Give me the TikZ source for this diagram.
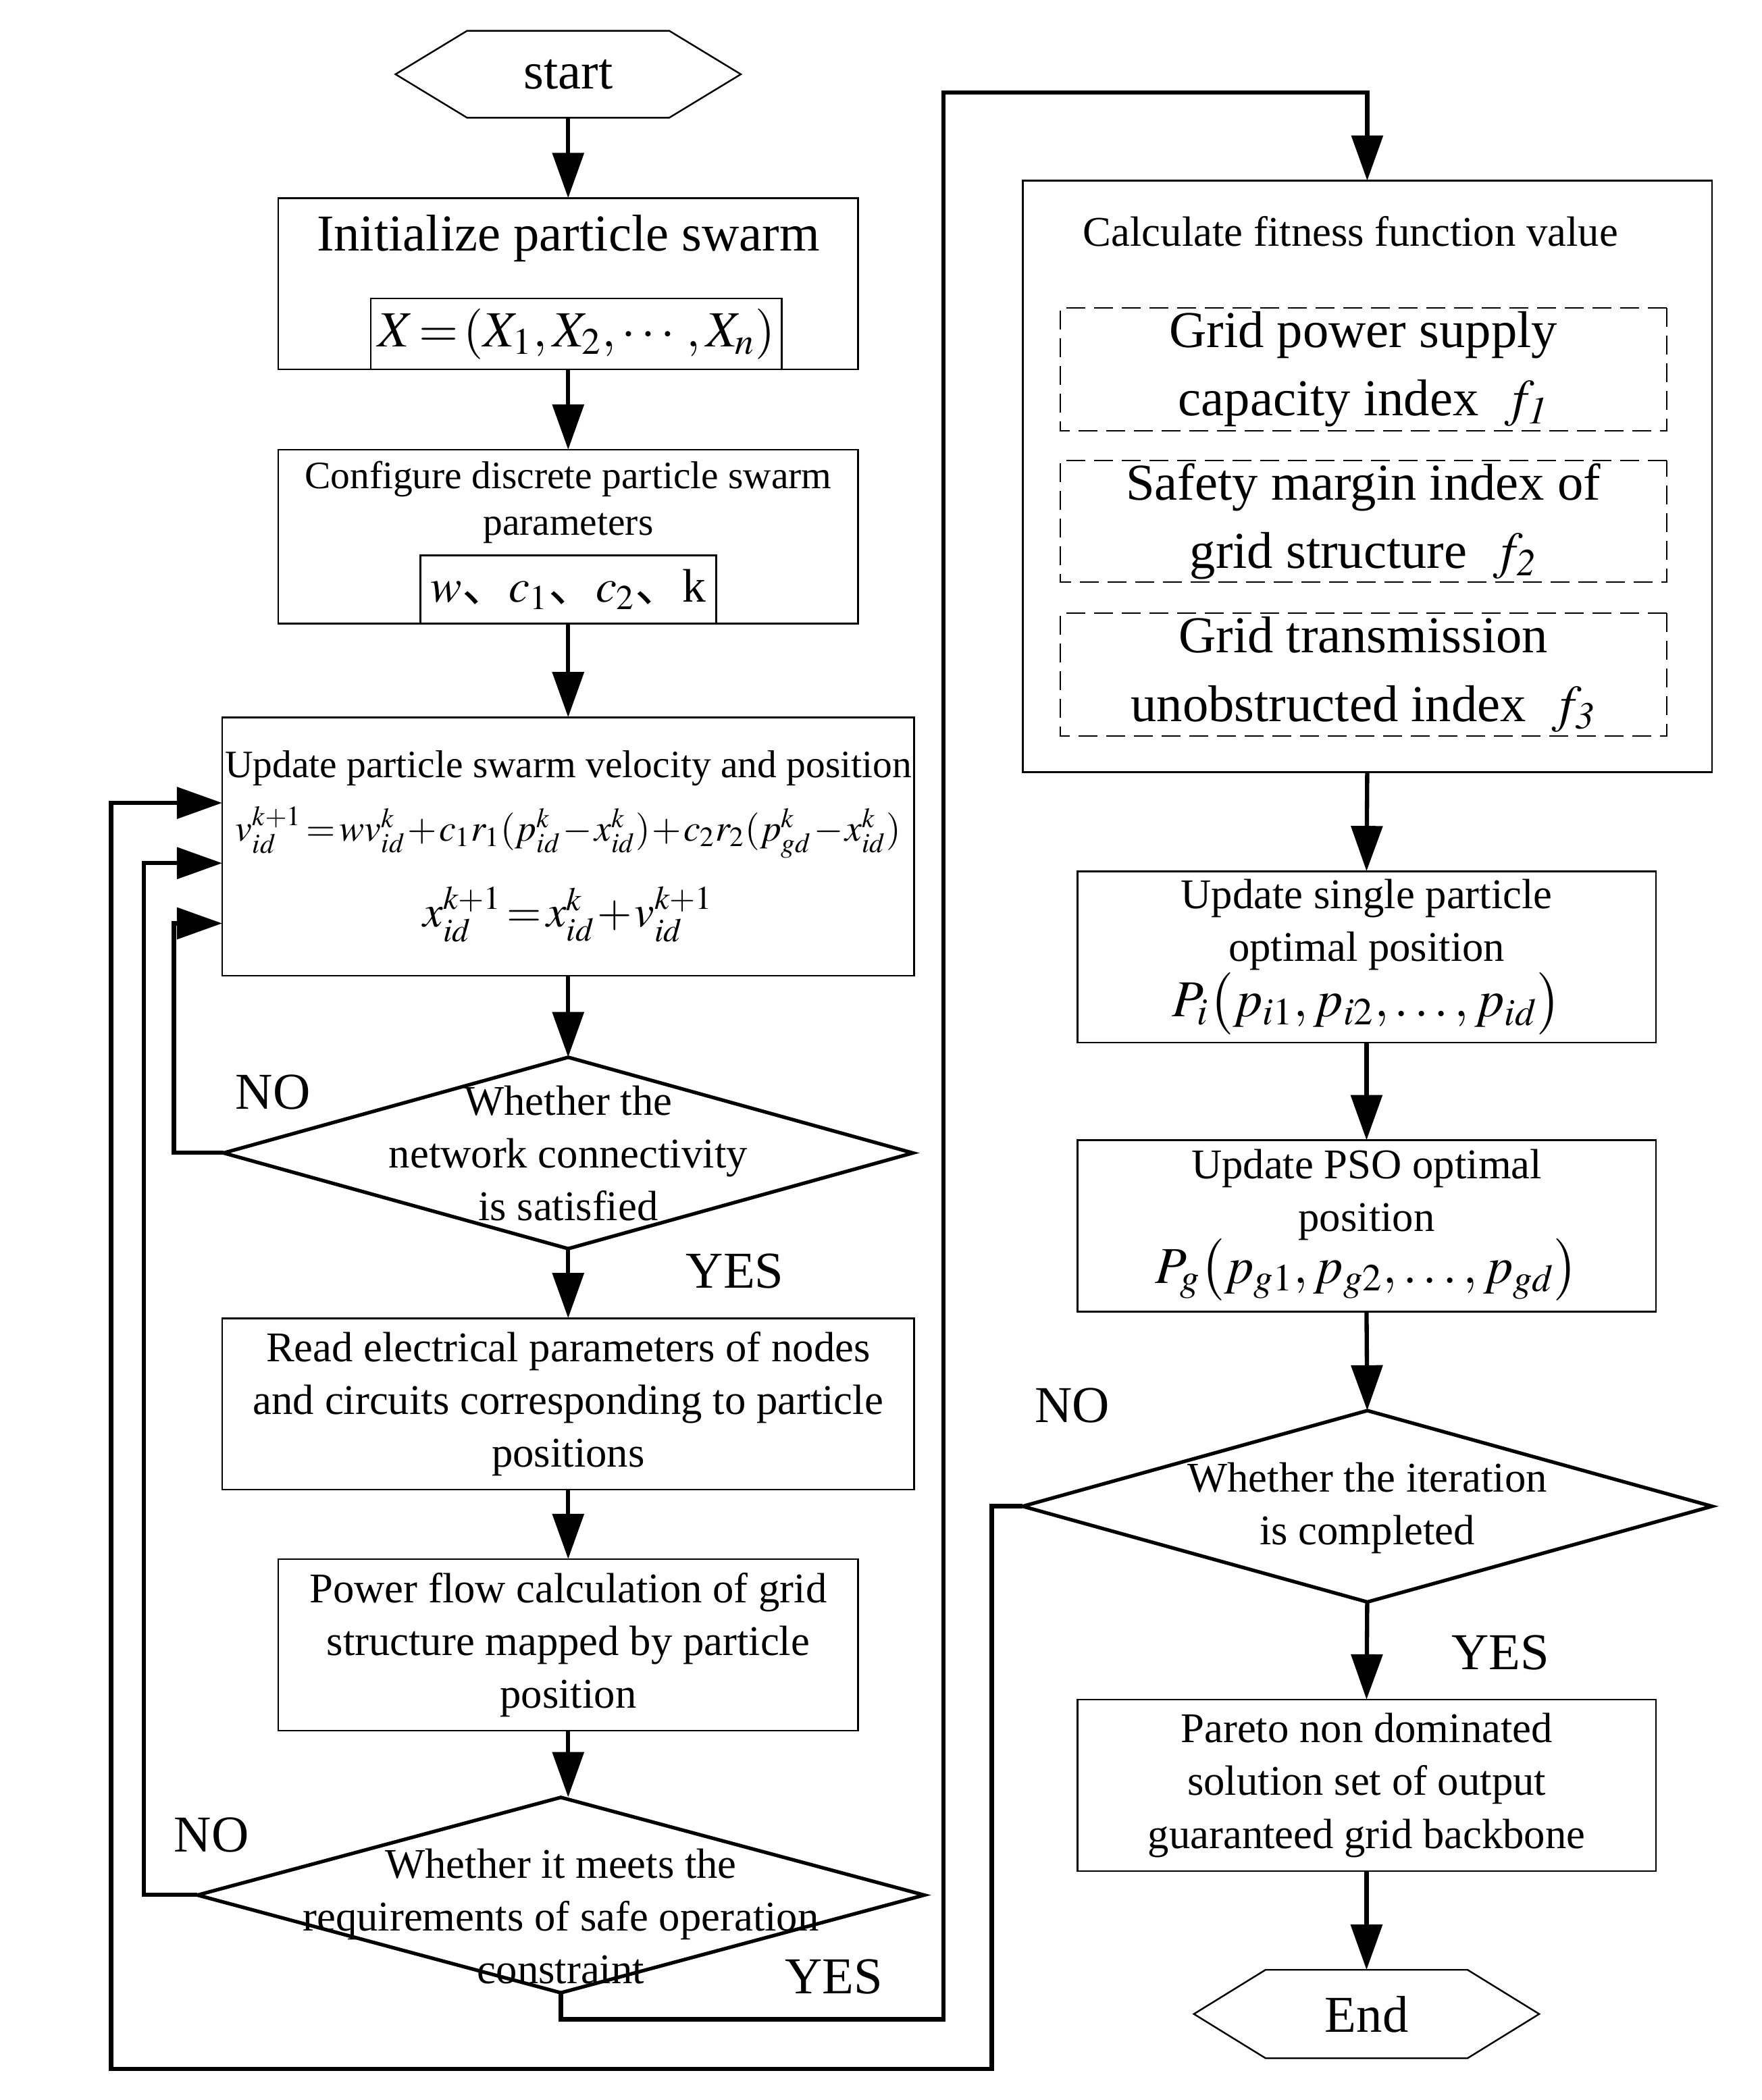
\documentclass[tikz,border=0pt]{standalone}
\usepackage{amsmath}
\usepackage{mathptmx}
\usepackage{fontspec}
\setmainfont{Liberation Serif}
\newfontfamily\cjkfont{Noto Sans CJK SC}
\usetikzlibrary{arrows.meta}
\usetikzlibrary{shapes.geometric}
\usetikzlibrary{calc}

\newcommand{\sizeL}{\fontsize{22}{28}\selectfont}
\newcommand{\sizeM}{\fontsize{18}{22.4}\selectfont}
\newcommand{\sizeS}{\fontsize{16.5}{19.8}\selectfont}
\newcommand{\tightmath}{\medmuskip=1mu\thickmuskip=2mu}

\tikzset{
  procbox/.style={draw, line width=0.7pt, inner sep=0pt, outer sep=0pt,
    minimum height=2.56cm, align=center, font=\sizeM},
  dashbox/.style={draw, line width=0.6pt, dash pattern=on 0.28cm off 0.13cm,
    inner sep=0pt, outer sep=0pt, minimum width=9.06cm, minimum height=1.84cm,
    align=center, font=\fontsize{22}{29}\selectfont},
  decision/.style={diamond, draw, line width=1.5pt, inner sep=0pt, outer sep=0pt},
  question/.style={align=center, font=\sizeM, inner sep=0pt},
  formula/.style={inner sep=0pt, font=#1\tightmath},
  flow/.style={line width=1.8pt, -{Triangle[length=0.67cm,width=0.46cm]}},
  answer/.style={font=\sizeL, inner sep=0pt},
}

\newcommand{\hexframe}[1]{%
  \draw[line width=0.7pt] (#1.west) -- ([xshift=1.07cm]#1.north west)
    -- ([xshift=-1.07cm]#1.north east) -- (#1.east)
    -- ([xshift=-1.07cm]#1.south east) -- ([xshift=1.07cm]#1.south west) -- cycle;}

\begin{document}
\begin{tikzpicture}
  \useasboundingbox (0,0) rectangle (26.08,-31.10);
  \begin{scope}[scale=0.991, transform shape]

  % left column
  \node[minimum width=5.16cm, minimum height=1.30cm, inner sep=0pt, outer sep=0pt, font=\sizeL] (start) at (8.49,-1.11) {start};
  \hexframe{start}

  \node[procbox, minimum width=8.66cm] (init) at (8.49,-4.24) {};
  \node[font=\sizeL] (initT) at (8.49,-3.56) {Initialize particle swarm};
  \node[procbox, minimum width=6.14cm, minimum height=1.06cm, font=\fontsize{21.5}{26}\selectfont\tightmath] (initX) at (8.61,-4.99) {$X=(X_1,X_2,\cdots,X_n)$};

  \node[procbox, minimum width=8.66cm, minimum height=2.60cm] (conf) at (8.49,-8.02) {};
  \node[font=\sizeS, align=center] (confT) at (8.49,-7.51) {Configure discrete particle swarm\\parameters};
  \node[procbox, minimum width=4.42cm, minimum height=1.02cm, font=\fontsize{20}{24}\selectfont] (confP) at (8.49,-8.81)
    {$w${\cjkfont 、}$c_1${\cjkfont 、}$c_2${\cjkfont 、}k};

  \node[procbox, minimum width=10.34cm, minimum height=3.86cm] (update) at (8.49,-12.65) {};
  \node[font=\sizeS] (updT) at (8.49,-11.48) {Update particle swarm velocity and position};
  \node[formula=\fontsize{16}{19}\selectfont] (updV) at (8.49,-12.44)
    {$v_{id}^{k+1}=wv_{id}^{k}+c_1r_1(p_{id}^{k}-x_{id}^{k})+c_2r_2(p_{gd}^{k}-x_{id}^{k})$};
  \node[formula=\fontsize{19}{22}\selectfont] (updX) at (8.49,-13.66) {$x_{id}^{k+1}=x_{id}^{k}+v_{id}^{k+1}$};

  \node[decision, minimum width=10.30cm, minimum height=2.86cm] (d1) at (8.49,-17.23) {};
  \node[question] (d1T) at (8.49,-17.24) {Whether the\\network connectivity\\is satisfied};
  \node[answer] (no1) at (4.08,-16.32) {NO};
  \node[answer] (yes1) at (10.98,-19.00) {YES};

  \node[procbox, minimum width=10.34cm] (read) at (8.49,-20.98)
    {Read electrical parameters of nodes\\and circuits corresponding to particle\\positions};

  \node[procbox, minimum width=8.66cm] (power) at (8.49,-24.58)
    {Power flow calculation of grid\\structure mapped by particle\\position};

  \node[decision, minimum width=10.86cm, minimum height=2.92cm] (d2) at (8.38,-28.32) {};
  \node[question] (d2T) at (8.38,-28.64) {Whether it meets the\\requirements of safe operation\\constraint};
  \node[answer] (no2) at (3.16,-27.42) {NO};
  \node[answer] (yes2) at (12.46,-29.54) {YES};

  % right column
  \node[procbox, minimum width=10.30cm, minimum height=8.84cm] (calc) at (20.43,-7.12) {};
  \node[font=\fontsize{18}{21}\selectfont] (calcT) at (20.18,-3.46) {Calculate fitness function value};
  \node[dashbox] (fA) at (20.37,-5.52) {Grid power supply\\capacity index \ $f_{\mathit{1}}$};
  \node[dashbox, minimum height=1.82cm] (fB) at (20.37,-7.79) {Safety margin index of\\grid structure \ $f_{\mathit{2}}$};
  \node[dashbox] (fC) at (20.37,-10.08) {Grid transmission\\unobstructed index \ $f_{\mathit{3}}$};

  \node[procbox, minimum width=8.64cm] (single) at (20.42,-14.30) {};
  \node[question] (singleT) at (20.42,-13.82) {Update single particle\\optimal position};
  \node[formula=\fontsize{22}{26}\selectfont] (singleF) at (20.42,-15.00)
    {$P_i\bigl(p_{i1},p_{i2},\ldots,p_{id}\bigr)$};

  \node[procbox, minimum width=8.64cm] (pso) at (20.42,-18.32) {};
  \node[question] (psoT) at (20.42,-17.85) {Update PSO optimal\\position};
  \node[formula=\fontsize{22}{26}\selectfont] (psoF) at (20.42,-18.98)
    {$P_g\bigl(p_{g1},p_{g2},\ldots,p_{gd}\bigr)$};

  \node[decision, minimum width=10.30cm, minimum height=2.86cm] (d3) at (20.43,-22.51) {};
  \node[question] (d3T) at (20.43,-22.54) {Whether the iteration\\is completed};
  \node[answer] (no3) at (16.02,-21.00) {NO};
  \node[answer] (yes3) at (22.42,-24.70) {YES};

  \node[procbox, minimum width=8.64cm] (pareto) at (20.42,-26.68)
    {Pareto non dominated\\solution set of output\\guaranteed grid backbone};

  \node[minimum width=5.16cm, minimum height=1.32cm, inner sep=0pt, outer sep=0pt, font=\sizeL] (end) at (20.42,-30.10) {End};
  \hexframe{end}

  % connectors
  \draw[flow] (start.south) -- (init.north);
  \draw[flow] (init.south) -- (conf.north);
  \draw[flow] (conf.south) -- (update.north);
  \draw[flow] (update.south) -- (d1.north);
  \draw[flow] (d1.south) -- (read.north);
  \draw[flow] (read.south) -- (power.north);
  \draw[flow] (power.south) -- (power.south |- d2.north);

  \draw[flow] (d1.west) -- ++(-0.74,0) |- ([yshift=-1.15cm]update.west);
  \draw[flow] (d2.west) -- ++(-0.80,0) |- ([yshift=-0.25cm]update.west);
  \draw[flow] (d3.west) -- ++(-0.46,0) |- (1.66,-30.92) |- ([yshift=0.65cm]update.west);

  \draw[flow] (d2.south) -- ++(0,-0.40) -| (14.10,-1.38) -| (calc.north);

  \draw[flow] (calc.south) -- (single.north);
  \draw[flow] (single.south) -- (pso.north);
  \draw[flow] (pso.south) -- (d3.north);
  \draw[flow] (d3.south) -- (pareto.north);
  \draw[flow] (pareto.south) -- (end.north);

  \end{scope}
\end{tikzpicture}
\end{document}
